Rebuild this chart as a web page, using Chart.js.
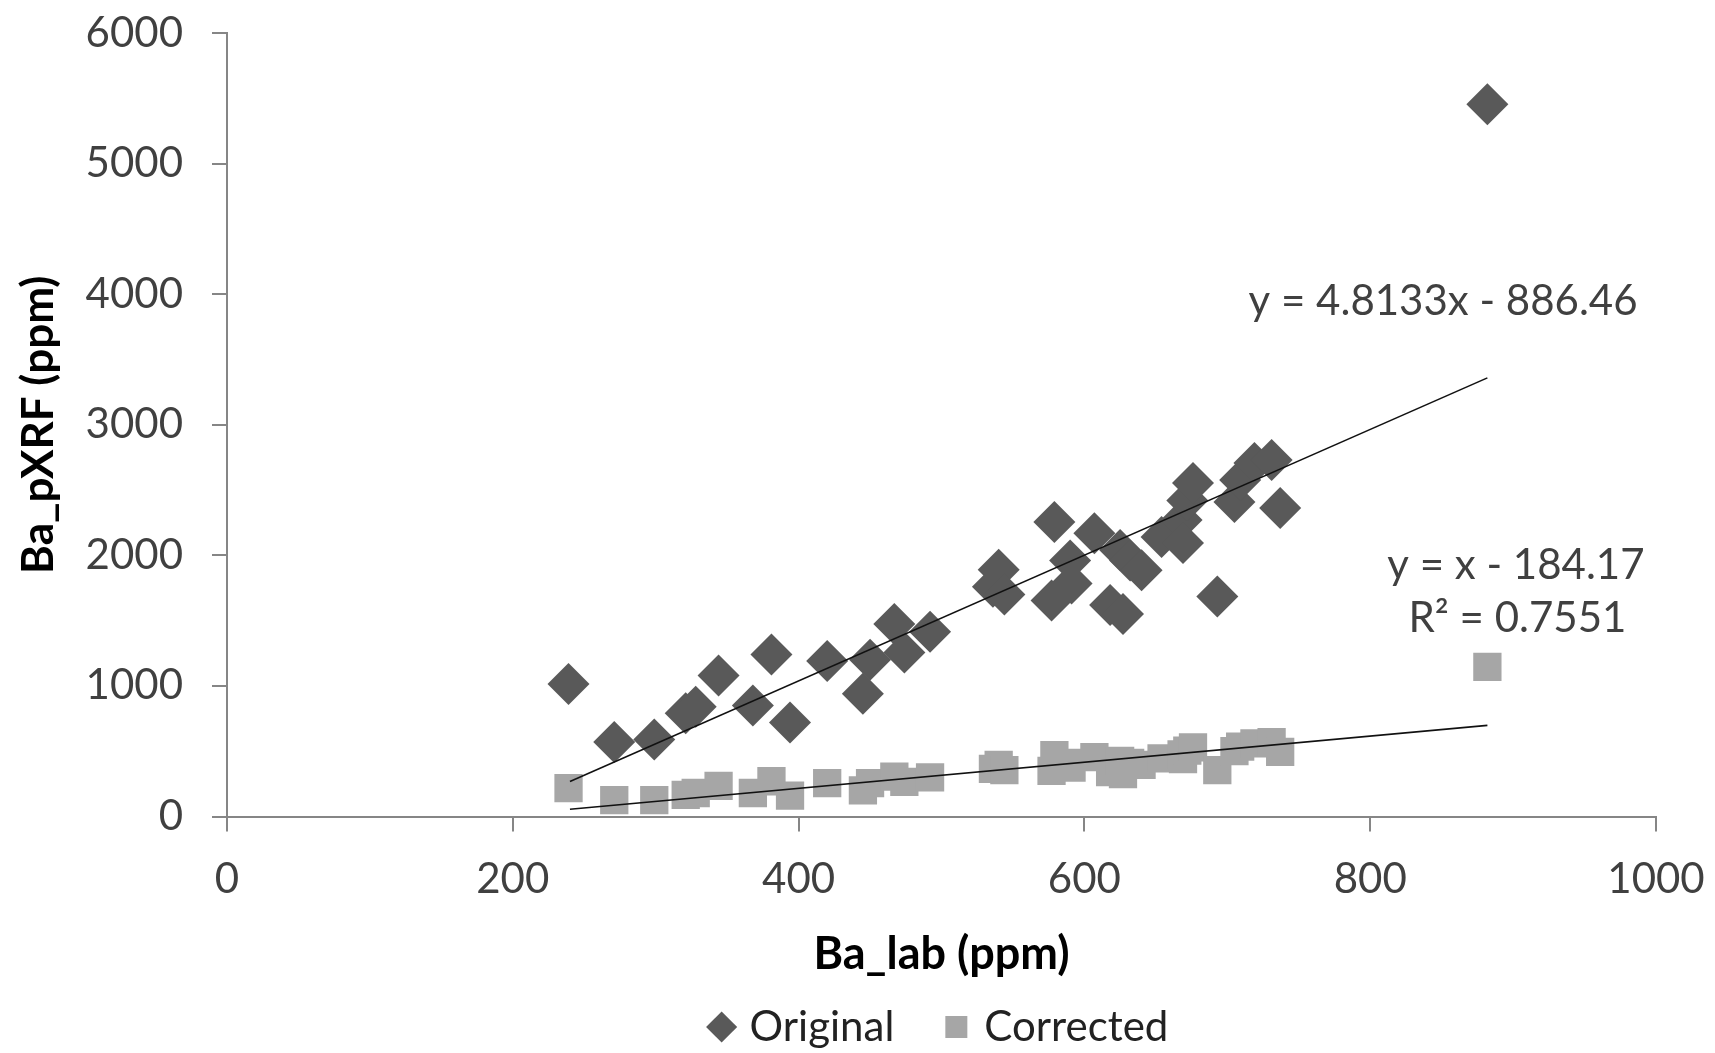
<!DOCTYPE html>
<html>
<head>
<meta charset="utf-8">
<title>Ba pXRF vs lab</title>
<script src="https://cdn.jsdelivr.net/npm/chart.js@4.4.0/dist/chart.umd.min.js"></script>
<style>
  html, body { margin: 0; padding: 0; background: #fff; }
  #wrap { width: 1715px; height: 1053px; }
</style>
</head>
<body>
<div id="wrap"><canvas id="chartBa"></canvas></div>
<script>
// Ba_lab (ppm) of each sample
const labValues = [239, 271, 299, 321, 328, 344, 368, 381, 394, 420,
                   445, 450, 467, 474, 492, 536, 540, 544, 577, 579,
                   590, 591, 607, 618, 625, 627, 632, 640, 654, 668,
                   669, 672, 676, 693, 705, 709, 719, 731, 737, 882];
// Ba_pXRF (ppm) before correction
const originalValues = [1014, 570, 590, 790, 840, 1080, 850, 1240, 720, 1190,
                        940, 1200, 1475, 1255, 1415, 1760, 1890, 1700, 1655, 2255,
                        1960, 1785, 2170, 1620, 2040, 1550, 1960, 1885, 2140, 2270,
                        2094, 2420, 2554, 1684, 2408, 2577, 2707, 2730, 2362, 5455];
// Ba_pXRF (ppm) after correction
const correctedValues = [218, 125, 125, 165, 180, 235, 180, 270, 160, 255,
                         200, 255, 305, 265, 300, 365, 395, 355, 350, 470,
                         410, 375, 455, 340, 425, 325, 410, 395, 445, 475,
                         440, 505, 530, 355, 500, 535, 560, 570, 495, 1145];

const xTicks = [0, 200, 400, 600, 800, 1000];
const yTicks = [0, 1000, 2000, 3000, 4000, 5000, 6000];

// trendlines (slope, intercept) as printed on the chart
const trendRange = [240, 882];
const originalFit = [4.8133, -886.46];
const correctedFit = [1, -184.17];
const fitTexts = ["y = 4.8133x - 886.46", "y = x - 184.17", "R\u00B2 = 0.7551"];

const toPoints = (xs, ys) => xs.map((x, i) => ({ x: x, y: ys[i] }));
const fitLine = (fit) => trendRange.map(x => ({ x: x, y: fit[0] * x + fit[1] }));

const AXIS_GREY = "#868686";
Chart.defaults.font.family = "Lato, 'Noto Sans', sans-serif";
Chart.defaults.color = "#404040";

// equation text next to the trendlines, placed in data coordinates
const fitLabelSpots = [
    { text: fitTexts[0], x: 851, y: 3947 },
    { text: fitTexts[1], x: 902, y: 1926 },
    { text: fitTexts[2], x: 903, y: 1520 }
];
const fitLabels = {
    id: "fitLabels",
    afterDatasetsDraw(chart) {
        const { ctx, scales } = chart;
        ctx.save();
        ctx.font = "42px Lato, 'Noto Sans', sans-serif";
        ctx.fillStyle = "#404040";
        ctx.textAlign = "center";
        ctx.textBaseline = "middle";
        fitLabelSpots.forEach(s => {
            ctx.fillText(s.text, scales.x.getPixelForValue(s.x), scales.y.getPixelForValue(s.y));
        });
        ctx.restore();
    }
};

// centre the legend under the plot area instead of the canvas
const legendUnderPlot = {
    id: "legendUnderPlot",
    afterLayout(chart) {
        const lg = chart.legend, area = chart.chartArea;
        if (!lg) return;
        const dx = (area.left + area.right) / 2 - (lg.left + lg.right) / 2;
        lg.left += dx;
        lg.right += dx;
    }
};

const plainNumber = (v) => String(v);

new Chart(document.getElementById("chartBa"), {
    type: "scatter",
    data: {
        datasets: [
            {
                label: "Original",
                data: toPoints(labValues, originalValues),
                pointStyle: "rectRot",
                pointRadius: 21,
                pointHoverRadius: 21,
                backgroundColor: "#595959",
                borderColor: "#595959",
                borderWidth: 0,
                order: 1
            },
            {
                label: "Corrected",
                data: toPoints(labValues, correctedValues),
                pointStyle: "rect",
                pointRadius: 20,
                pointHoverRadius: 20,
                backgroundColor: "#a6a6a6",
                borderColor: "#a6a6a6",
                borderWidth: 0,
                order: 1
            },
            {
                label: "Linear (Original)",
                data: fitLine(originalFit),
                showLine: true,
                borderColor: "#111",
                borderWidth: 1.6,
                pointRadius: 0,
                order: 0
            },
            {
                label: "Linear (Corrected)",
                data: fitLine(correctedFit),
                showLine: true,
                borderColor: "#111",
                borderWidth: 1.6,
                pointRadius: 0,
                order: 0
            }
        ]
    },
    options: {
        responsive: true,
        maintainAspectRatio: false,
        animation: false,
        layout: { padding: { top: 0, right: 0, bottom: -5, left: 6 } },
        scales: {
            x: {
                type: "linear",
                position: "bottom",
                min: xTicks[0],
                max: xTicks[xTicks.length - 1],
                afterBuildTicks: (s) => { s.ticks = xTicks.map(v => ({ value: v })); },
                ticks: { padding: 23, font: { size: 42 }, color: "#404040", maxRotation: 0, callback: plainNumber },
                grid: { drawOnChartArea: false, tickLength: 15, color: AXIS_GREY, lineWidth: 2 },
                border: { color: AXIS_GREY, width: 2 },
                title: {
                    display: true,
                    text: "Ba_lab (ppm)",
                    color: "#000",
                    font: { size: 45, weight: "bold" },
                    padding: { top: 0, bottom: -30 }
                },
                afterFit: (s) => { s.height = 134.5; s.paddingRight = 59; }
            },
            y: {
                type: "linear",
                min: yTicks[0],
                max: yTicks[yTicks.length - 1],
                afterBuildTicks: (s) => { s.ticks = yTicks.map(v => ({ value: v })); },
                ticks: { padding: 29, font: { size: 42 }, color: "#404040", callback: plainNumber },
                grid: { drawOnChartArea: false, tickLength: 15, color: AXIS_GREY, lineWidth: 2 },
                border: { color: AXIS_GREY, width: 2 },
                title: {
                    display: true,
                    text: "Ba_pXRF (ppm)",
                    color: "#000",
                    font: { size: 44, weight: "bold" },
                    padding: { top: 6, bottom: 0 }
                },
                afterFit: (s) => { s.width = 221; s.paddingTop = 33; }
            }
        },
        plugins: {
            tooltip: { enabled: false },
            legend: {
                position: "bottom",
                labels: {
                    usePointStyle: true,
                    boxWidth: 14,
                    boxHeight: 22,
                    padding: 55,
                    color: "#222",
                    font: { size: 42 },
                    filter: (item) => item.datasetIndex < 2
                }
            }
        }
    },
    plugins: [fitLabels, legendUnderPlot]
});
</script>
</body>
</html>
